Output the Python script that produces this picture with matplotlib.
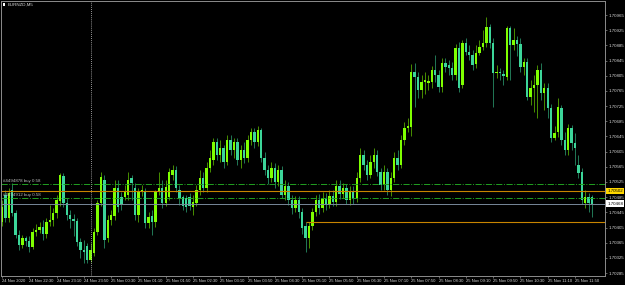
import matplotlib
matplotlib.use("Agg")
import matplotlib.pyplot as plt
import matplotlib.transforms as mtransforms
from matplotlib.patches import Rectangle
import numpy as np
import pandas as pd

SYMBOL = "EURNZD,M5"
FIRST_BAR = "2020-11-24 21:50"
BASE = 1.70000  # candle values below are points above this (1 point = 0.00001)

opens_pts = [
    420, 491, 430, 504, 443, 385, 359, 377, 369, 354,
    393, 398, 406, 388, 420, 425, 443, 475, 541, 470,
    438, 427, 422, 367, 346, 356, 319, 338, 393, 470,
    530, 377, 425, 435, 509, 485, 485, 491, 535, 509,
    438, 499, 499, 417, 435, 420, 499, 509, 470, 485,
    543, 557, 504, 485, 483, 485, 459, 470, 504, 535,
    509, 562, 583, 630, 596, 615, 578, 636, 609, 630,
    583, 609, 588, 636, 657, 630, 662, 588, 557, 535,
    562, 525, 557, 491, 514, 477, 456, 477, 446, 409,
    377, 409, 446, 477, 456, 483, 464, 488, 472, 514,
    493, 509, 477, 499, 483, 535, 596, 570, 543, 578,
    596, 551, 517, 551, 504, 535, 588, 570, 636, 667,
    670, 815, 802, 767, 788, 786, 788, 820, 807, 775,
    838, 833, 825, 807, 878, 780, 891, 867, 860, 836,
    865, 881, 891, 933, 891, 812, 815, 809, 802, 931,
    886, 899, 889, 828, 841, 749, 773, 780, 820, 759,
    773, 720, 641, 657, 720, 636, 609, 667, 628, 570,
    551, 470, 485, 485,
]
highs_pts = [
    477, 504, 509, 522, 451, 398, 385, 383, 383, 404,
    414, 420, 425, 430, 464, 456, 491, 549, 549, 483,
    451, 441, 430, 377, 372, 364, 364, 404, 477, 551,
    543, 438, 451, 530, 530, 499, 517, 551, 543, 522,
    509, 517, 509, 446, 451, 504, 551, 530, 530, 562,
    570, 567, 517, 491, 491, 496, 491, 517, 557, 551,
    578, 609, 641, 641, 636, 622, 649, 649, 641, 641,
    622, 630, 649, 667, 667, 673, 667, 604, 570, 578,
    575, 570, 567, 530, 525, 491, 488, 488, 456, 420,
    420, 456, 491, 493, 499, 496, 504, 504, 530, 530,
    522, 520, 514, 514, 551, 615, 609, 583, 596, 615,
    609, 562, 570, 562, 551, 604, 609, 649, 683, 694,
    836, 838, 815, 807, 815, 807, 831, 860, 820, 852,
    852, 846, 841, 889, 894, 899, 904, 886, 873, 886,
    899, 925, 960, 941, 904, 833, 825, 820, 936, 936,
    931, 910, 904, 852, 852, 794, 807, 833, 838, 786,
    786, 730, 673, 746, 728, 657, 678, 675, 654, 596,
    562, 504, 496, 491,
]
lows_pts = [
    409, 420, 420, 435, 377, 346, 351, 356, 340, 348,
    383, 391, 372, 377, 409, 409, 430, 462, 459, 425,
    404, 383, 356, 325, 311, 311, 314, 330, 385, 462,
    351, 367, 412, 425, 446, 451, 477, 477, 477, 425,
    420, 488, 404, 404, 385, 406, 491, 456, 462, 477,
    530, 499, 464, 451, 446, 451, 438, 462, 491, 499,
    499, 551, 570, 583, 578, 562, 570, 596, 588, 570,
    562, 575, 578, 622, 615, 620, 578, 543, 520, 525,
    509, 514, 483, 477, 464, 441, 446, 430, 388, 340,
    351, 398, 435, 441, 446, 451, 456, 462, 462, 480,
    483, 467, 464, 467, 472, 525, 557, 530, 535, 562,
    541, 504, 504, 491, 488, 525, 557, 562, 622, 657,
    646, 723, 746, 746, 757, 767, 773, 788, 762, 762,
    815, 807, 794, 794, 762, 773, 860, 846, 820, 825,
    860, 873, 881, 878, 723, 799, 794, 780, 794, 794,
    873, 857, 815, 807, 741, 728, 709, 694, 741, 715,
    694, 630, 636, 644, 622, 596, 596, 609, 570, 535,
    467, 456, 446, 433,
]
closes_pts = [
    459, 430, 496, 443, 385, 359, 377, 369, 354, 393,
    398, 406, 388, 420, 425, 443, 477, 543, 470, 438,
    427, 422, 367, 346, 340, 319, 346, 393, 470, 538,
    372, 425, 438, 509, 459, 464, 499, 530, 522, 438,
    499, 504, 417, 433, 420, 499, 509, 470, 512, 551,
    557, 509, 483, 462, 459, 462, 472, 504, 535, 509,
    562, 588, 630, 596, 615, 578, 636, 609, 630, 583,
    609, 588, 636, 657, 630, 662, 588, 557, 535, 562,
    525, 557, 491, 514, 477, 456, 477, 446, 404, 377,
    409, 446, 477, 456, 483, 464, 488, 472, 514, 493,
    509, 477, 499, 483, 535, 596, 570, 543, 578, 596,
    551, 517, 551, 504, 535, 588, 570, 636, 667, 673,
    815, 802, 767, 788, 794, 791, 820, 807, 775, 838,
    828, 825, 807, 878, 773, 891, 867, 860, 833, 865,
    881, 891, 933, 891, 812, 815, 812, 804, 931, 886,
    899, 889, 828, 841, 749, 773, 780, 820, 759, 773,
    720, 641, 654, 723, 636, 609, 667, 628, 615, 549,
    477, 485, 470, 468,
]

order_prices = [1.70520, 1.70483]
order_labels = ["#4494878 buy 0.58", "#4494912 buy 0.58"]
level_price = 1.70502
ray_price = 1.70420
ray_start = "2020-11-25 05:15"
bid_price = 1.70468
price_ticks = [1.70285, 1.70325, 1.70365, 1.70405, 1.70445, 1.70485, 1.70525,
               1.70565, 1.70605, 1.70645, 1.70685, 1.70725, 1.70765, 1.70805,
               1.70845, 1.70885, 1.70925, 1.70965]

BULL = "#7FFF00"
BEAR = "#3CD69A"
AXIS = "#8c8c8c"
TEXT = "#d8d8d8"

plt.rcParams["font.family"] = ["Liberation Sans", "DejaVu Sans"]

o = BASE + np.array(opens_pts) * 1e-5
h = BASE + np.array(highs_pts) * 1e-5
l = BASE + np.array(lows_pts) * 1e-5
c = BASE + np.array(closes_pts) * 1e-5
times = pd.date_range(FIRST_BAR, periods=len(c), freq="5min")
x = np.arange(len(c))
up = c >= o

fig = plt.figure(figsize=(6.25, 2.85), dpi=100, facecolor="black")
ax = fig.add_axes([1 / 625, 9 / 285, 604 / 625, 275 / 285], facecolor="black")

# wicks then bodies
ax.vlines(x[up], l[up], h[up], color=BULL, lw=0.6, alpha=0.65)
ax.vlines(x[~up], l[~up], h[~up], color=BEAR, lw=0.6, alpha=0.65)
body = np.maximum(np.abs(c - o), 1.5e-5)
ax.bar(x, body, bottom=np.minimum(o, c), width=0.7,
       color=np.where(up, BULL, BEAR), linewidth=0)

# period separator at midnight
midnight = int(np.argmax(times.hour == 0))
ax.axvline(midnight, color="#c8c8c8", lw=0.6, ls=(0, (1, 1.5)))

trans = mtransforms.blended_transform_factory(ax.transAxes, ax.transData)

for price, label in zip(order_prices, order_labels):
    ax.axhline(price, color="#22A022", lw=0.7, ls="-.")
    ax.text(0.004, price + 0.00002, label, transform=trans, fontsize=3.2,
            color="#bdbdbd", va="bottom", ha="left")

ax.axhline(level_price, color="#C88400", lw=0.8)
ray_x = int(np.where(times == pd.Timestamp(ray_start))[0][0])
ax.hlines(ray_price, ray_x, len(c) + 10, color="#C88400", lw=0.8)
ax.axhline(bid_price, color="#778899", lw=0.7)

ax.set_xlim(-0.29, 176.8)
ax.set_ylim(1.702772, 1.710019)

# price axis
ax.yaxis.tick_right()
ax.set_yticks(price_ticks)
ax.set_yticklabels([f"{p:.5f}" for p in price_ticks])
ax.tick_params(axis="y", length=1.5, width=0.5, color=AXIS, labelsize=3.2,
               labelcolor=TEXT, pad=1)

for price, fc in [(level_price, "#FFD700"), (bid_price, "white")]:
    ax.text(1.004, price, f"{price:.5f}", transform=trans, fontsize=3.2,
            color="black", va="center", ha="left", clip_on=False,
            bbox=dict(boxstyle="square,pad=0.25", fc=fc, ec="none"))

# time axis: every 8 bars, first label shows the year
tick_idx = list(range(0, len(c), 8))
tick_lbl = [times[0].strftime("%d %b %Y")] + [times[i].strftime("%d %b %H:%M") for i in tick_idx[1:]]
ax.set_xticks(tick_idx)
ax.set_xticklabels(tick_lbl, ha="left")
ax.tick_params(axis="x", length=1.5, width=0.5, color=AXIS, labelsize=3.0,
               labelcolor=TEXT, pad=1)

for side in ["left", "right", "top", "bottom"]:
    ax.spines[side].set_color(AXIS)
    ax.spines[side].set_linewidth(0.7)

fig.patches.append(Rectangle((2.5 / 625, 1 - 5.5 / 285), 3 / 625, 2 / 285,
                             transform=fig.transFigure, fc="white", ec="none"))
fig.text(8 / 625, 1 - 4.5 / 285, SYMBOL, fontsize=3.2, color=TEXT,
         va="center", ha="left")

fig.savefig("out.png", dpi=100, facecolor="black")
